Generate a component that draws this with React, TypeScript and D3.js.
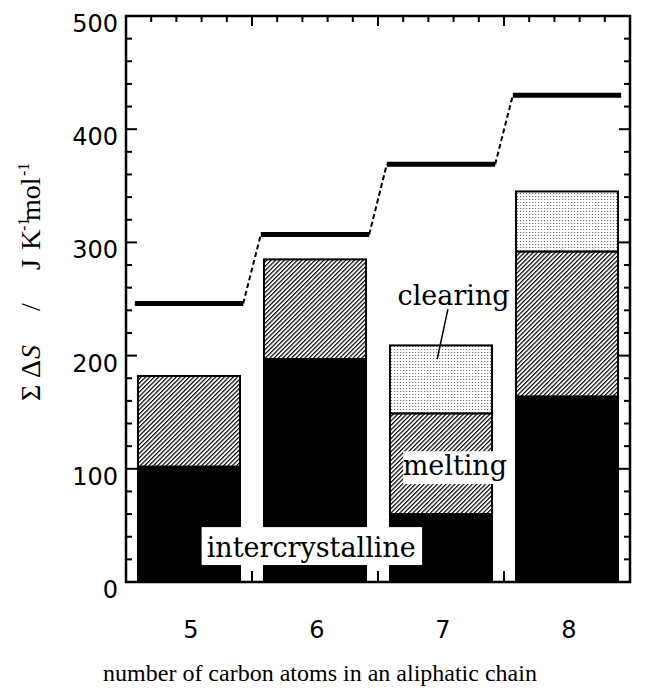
import * as d3 from "d3";
import React, { useRef, useEffect } from "react";

// entropy contributions per chain length (J K-1 mol-1)
const categories = [5, 6, 7, 8];
const intercrystalline = [102, 197, 60, 164];
const melting = [80, 88, 89, 128];
const clearing = [0, 0, 60, 53];
const totals = [246, 307, 369, 430];
const yTicks = [0, 100, 200, 300, 400, 500];

const w = 645;
const h = 691;
const left = 126;
const right = 630;
const top = 16;
const bottom = 582;

export default function App() {
  const svgRef = useRef<SVGSVGElement>(null);

  useEffect(() => {
    const svgEl = d3.select(svgRef.current);
    svgEl.selectAll("*").remove();
    const svg = svgEl.append("g");

    const x = d3.scaleLinear().domain([4.5, 8.5]).range([left, right]);
    const y = d3.scaleLinear().domain([0, 500]).range([bottom, top]);

    // patterns
    const defs = svg.append("defs");
    const hatch = defs.append("pattern")
      .attr("id", "hatch")
      .attr("patternUnits", "userSpaceOnUse")
      .attr("width", 3.1)
      .attr("height", 3.1)
      .attr("patternTransform", "rotate(45)");
    hatch.append("rect").attr("width", 3.1).attr("height", 3.1).attr("fill", "#fff");
    hatch.append("line")
      .attr("x1", 0.6).attr("y1", 0).attr("x2", 0.6).attr("y2", 3.1)
      .attr("stroke", "#000").attr("stroke-width", 1.2);
    const dots = defs.append("pattern")
      .attr("id", "dots")
      .attr("patternUnits", "userSpaceOnUse")
      .attr("width", 3)
      .attr("height", 3);
    dots.append("rect").attr("width", 3).attr("height", 3).attr("fill", "#fff");
    dots.append("rect").attr("x", 1).attr("y", 1).attr("width", 1.2).attr("height", 1).attr("fill", "#777");

    // axis ticks (all pointing inward)
    const yMinor = d3.range(0, 501, 20);
    svg.append("g").selectAll("line")
      .data(yMinor)
      .enter()
      .append("line")
      .attr("x1", left)
      .attr("x2", (d) => left + (d % 100 === 0 ? 11 : 6))
      .attr("y1", (d) => y(d))
      .attr("y2", (d) => y(d))
      .attr("stroke", "#000")
      .attr("stroke-width", 2);
    svg.append("g").selectAll("line")
      .data(yMinor)
      .enter()
      .append("line")
      .attr("x1", right)
      .attr("x2", (d) => right - (d % 100 === 0 ? 11 : 6))
      .attr("y1", (d) => y(d))
      .attr("y2", (d) => y(d))
      .attr("stroke", "#000")
      .attr("stroke-width", 2);
    const xMinor = d3.range(0, 21).map((i) => ({ v: 4.5 + 0.2 * i, major: i % 5 === 0 }));
    svg.append("g").selectAll("line")
      .data(xMinor)
      .enter()
      .append("line")
      .attr("x1", (d) => x(d.v))
      .attr("x2", (d) => x(d.v))
      .attr("y1", top)
      .attr("y2", (d) => top + (d.major ? 10 : 6))
      .attr("stroke", "#000")
      .attr("stroke-width", 2);
    svg.append("g").selectAll("line")
      .data(xMinor)
      .enter()
      .append("line")
      .attr("x1", (d) => x(d.v))
      .attr("x2", (d) => x(d.v))
      .attr("y1", bottom)
      .attr("y2", (d) => bottom - (d.major ? 11 : 6))
      .attr("stroke", "#000")
      .attr("stroke-width", 2);

    // stacked bars
    const rows = categories.map((c, i) => ({
      cat: c,
      intercrystalline: intercrystalline[i],
      melting: melting[i],
      clearing: clearing[i],
    }));
    const keys = ["intercrystalline", "melting", "clearing"];
    const fills: Record<string, string> = {
      intercrystalline: "#000",
      melting: "url(#hatch)",
      clearing: "url(#dots)",
    };
    const stacked = d3.stack().keys(keys)(rows as any);
    const halfBar = 0.405;
    stacked.forEach((layer) => {
      svg.append("g").selectAll("rect")
        .data(layer.filter((d) => d[1] > d[0]))
        .enter()
        .append("rect")
        .attr("x", (d: any) => x(d.data.cat - halfBar))
        .attr("width", x(5 + halfBar) - x(5 - halfBar))
        .attr("y", (d) => y(d[1]))
        .attr("height", (d) => y(d[0]) - y(d[1]))
        .attr("fill", fills[layer.key])
        .attr("stroke", "#000")
        .attr("stroke-width", 2);
    });

    // total entropy steps
    const halfLine = 0.43;
    svg.append("g").selectAll("line")
      .data(categories)
      .enter()
      .append("line")
      .attr("x1", (d) => x(d - halfLine))
      .attr("x2", (d) => x(d + halfLine))
      .attr("y1", (d, i) => y(totals[i]))
      .attr("y2", (d, i) => y(totals[i]))
      .attr("stroke", "#000")
      .attr("stroke-width", 5);
    svg.append("g").selectAll("line")
      .data(categories.slice(0, -1))
      .enter()
      .append("line")
      .attr("x1", (d) => x(d + halfLine))
      .attr("x2", (d) => x(d + 1 - halfLine))
      .attr("y1", (d, i) => y(totals[i]))
      .attr("y2", (d, i) => y(totals[i + 1]))
      .attr("stroke", "#000")
      .attr("stroke-width", 2)
      .attr("stroke-dasharray", "5,3");

    // labels inside the plot
    const labelFont = "'DejaVu Serif', serif";
    svg.append("rect")
      .attr("x", x(5.1)).attr("y", y(48.5))
      .attr("width", x(6.85) - x(5.1)).attr("height", y(15) - y(48.5))
      .attr("fill", "#fff");
    svg.append("text")
      .attr("x", x(5.97)).attr("y", y(22))
      .attr("text-anchor", "middle")
      .style("font-family", labelFont).style("font-size", "27px")
      .text("intercrystalline");
    svg.append("rect")
      .attr("x", x(6.7)).attr("y", y(115.5))
      .attr("width", x(7.53) - x(6.7)).attr("height", y(86.5) - y(115.5))
      .attr("fill", "#fff");
    svg.append("text")
      .attr("x", x(7.11)).attr("y", y(94.5))
      .attr("text-anchor", "middle")
      .style("font-family", labelFont).style("font-size", "27px")
      .text("melting");
    svg.append("text")
      .attr("x", x(7.1)).attr("y", y(245))
      .attr("text-anchor", "middle")
      .style("font-family", labelFont).style("font-size", "27px")
      .text("clearing");
    svg.append("line")
      .attr("x1", x(7.055)).attr("y1", y(241))
      .attr("x2", x(6.97)).attr("y2", y(197))
      .attr("stroke", "#000").attr("stroke-width", 1.5);

    // frame
    svg.append("rect")
      .attr("x", left).attr("y", top)
      .attr("width", right - left).attr("height", bottom - top)
      .attr("fill", "none").attr("stroke", "#000").attr("stroke-width", 2.5);

    // tick labels
    svg.append("g").selectAll("text")
      .data(yTicks)
      .enter()
      .append("text")
      .attr("x", left - 8)
      .attr("y", (d) => y(d) + 16)
      .attr("text-anchor", "end")
      .style("font-family", "'DejaVu Sans', sans-serif")
      .style("font-size", "24px")
      .text((d) => d);
    svg.append("g").selectAll("text")
      .data(categories)
      .enter()
      .append("text")
      .attr("x", (d) => x(d) + 2)
      .attr("y", 638)
      .attr("text-anchor", "middle")
      .style("font-family", "'DejaVu Sans', sans-serif")
      .style("font-size", "24px")
      .text((d) => d);

    // axis titles
    svg.append("text")
      .attr("x", (left + right) / 2 - 58)
      .attr("y", 681)
      .attr("text-anchor", "middle")
      .style("font-family", "'Liberation Serif', serif")
      .style("font-size", "24px")
      .text("number of carbon atoms in an aliphatic chain");

    const yl = svg.append("text")
      .attr("transform", "rotate(-90)")
      .attr("y", 40)
      .style("font-family", "'Liberation Serif', serif")
      .style("font-size", "28px");
    const base = -401;
    yl.append("tspan").attr("x", base).text("\u03A3");
    yl.append("tspan").attr("x", base + 23).text("\u0394");
    yl.append("tspan").attr("x", base + 42).style("font-style", "italic").text("S");
    yl.append("tspan").attr("x", base + 90).text("/");
    yl.append("tspan").attr("x", base + 131).text("J");
    yl.append("tspan").attr("x", base + 151).text("K");
    yl.append("tspan").attr("x", base + 170).attr("dy", -11).style("font-size", "16px").text("-1");
    yl.append("tspan").attr("x", base + 180).attr("dy", 11).text("mol");
    yl.append("tspan").attr("x", base + 225).attr("dy", -11).style("font-size", "16px").text("-1");
  }, []);

  return (
    <svg
      ref={svgRef}
      width={w}
      height={h}
      style={{ position: "absolute", left: 0, top: 0, background: "#fff" }}
    />
  );
}
